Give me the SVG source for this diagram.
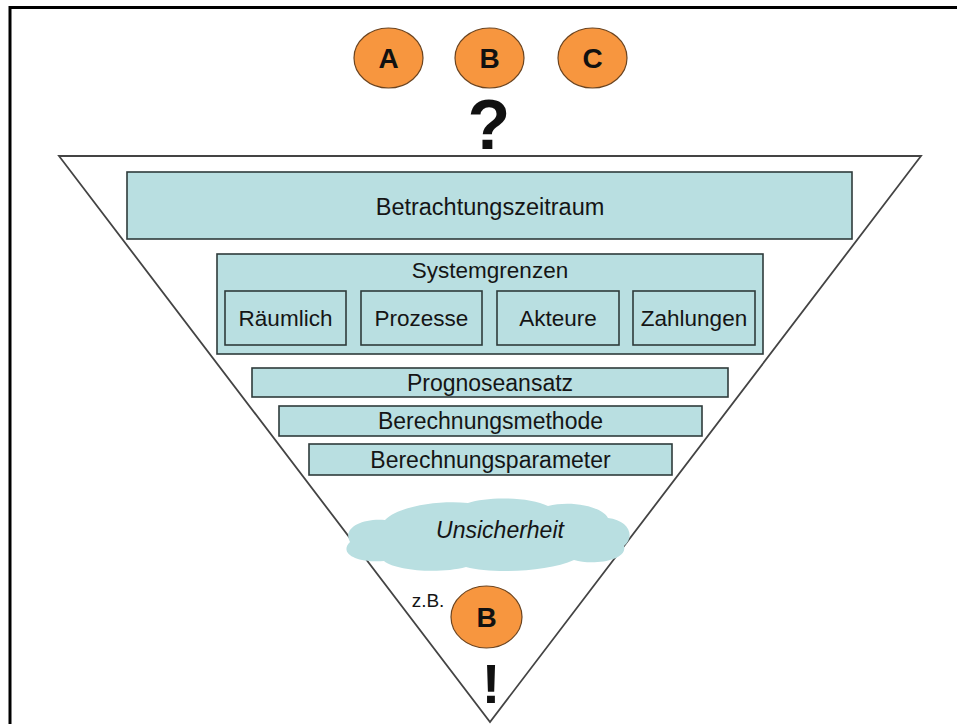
<svg xmlns="http://www.w3.org/2000/svg" width="957" height="724" viewBox="0 0 957 724">
<style>
  .box{fill:#b9dfe1;stroke:#2f3b3b;stroke-width:1.6}
  .t{font-family:"Liberation Sans",Arial,sans-serif;fill:#151515;text-anchor:middle}
  .circ{fill:#f7963f;stroke:#6b4420;stroke-width:1.2}
  .bl{font-family:"Liberation Sans",Arial,sans-serif;font-weight:bold;fill:#111;text-anchor:middle}
</style>
<rect width="957" height="724" fill="#ffffff"/>
<path d="M10,724 V7.5 H957" fill="none" stroke="#000" stroke-width="3"/>
<g id="funnel">
  <path d="M59,156 H921 L490,722 Z" fill="none" stroke="#444" stroke-width="1.8"/>
</g>
<g id="options">
  <g id="nodeA"><ellipse class="circ" cx="388.5" cy="58" rx="34.5" ry="30"/><text class="bl" x="388.5" y="68" font-size="28">A</text></g>
  <g id="nodeB"><ellipse class="circ" cx="489.5" cy="58" rx="34.5" ry="30"/><text class="bl" x="489.5" y="68" font-size="28">B</text></g>
  <g id="nodeC"><ellipse class="circ" cx="592.5" cy="58" rx="34.5" ry="30"/><text class="bl" x="592.5" y="68" font-size="28">C</text></g>
  <g id="question"><text class="bl" x="489" y="149" font-size="70">?</text></g>
</g>
<g id="betrachtungszeitraum">
  <rect class="box" x="127" y="172" width="725" height="67"/>
  <text class="t" x="490" y="215" font-size="23.5">Betrachtungszeitraum</text>
</g>
<g id="systemgrenzen">
  <rect class="box" x="217" y="254" width="546" height="100"/>
  <text class="t" x="490" y="278" font-size="22.5">Systemgrenzen</text>
  <g id="raeumlich"><rect class="box" x="225" y="291" width="121" height="54"/><text class="t" x="285.5" y="326" font-size="22.5">Räumlich</text></g>
  <g id="prozesse"><rect class="box" x="361" y="291" width="121" height="54"/><text class="t" x="421.5" y="326" font-size="22.5">Prozesse</text></g>
  <g id="akteure"><rect class="box" x="497" y="291" width="122" height="54"/><text class="t" x="558" y="326" font-size="22.5">Akteure</text></g>
  <g id="zahlungen"><rect class="box" x="633" y="291" width="122" height="54"/><text class="t" x="694" y="326" font-size="22.5">Zahlungen</text></g>
</g>
<g id="prognoseansatz">
  <rect class="box" x="252" y="368" width="476" height="29"/>
  <text class="t" x="490" y="391" font-size="23">Prognoseansatz</text>
</g>
<g id="berechnungsmethode">
  <rect class="box" x="279" y="406" width="423" height="30"/>
  <text class="t" x="490.5" y="429" font-size="23">Berechnungsmethode</text>
</g>
<g id="berechnungsparameter">
  <rect class="box" x="309" y="444" width="363" height="31"/>
  <text class="t" x="490.5" y="467.5" font-size="23">Berechnungsparameter</text>
</g>
<g id="unsicherheit">
  <path d="M350,542 C342,528 362,518 385,520 C398,506 440,500 468,503 C488,496 530,497 548,506 C570,500 602,506 608,518 C628,520 636,536 624,546 C628,560 594,566 574,560 C548,572 492,574 466,567 C440,574 396,571 384,561 C358,563 338,554 350,542 Z" fill="#b9dfe1"/>
  <text class="t" x="500" y="538" font-size="23" font-style="italic">Unsicherheit</text>
</g>
<g id="result">
  <text class="t" x="428" y="607" font-size="19">z.B.</text>
  <g id="nodeB2"><ellipse class="circ" cx="486.5" cy="617" rx="35.5" ry="31"/><text class="bl" x="486.5" y="627" font-size="28">B</text></g>
  <text class="bl" x="491" y="703" font-size="56">!</text>
</g>
</svg>
